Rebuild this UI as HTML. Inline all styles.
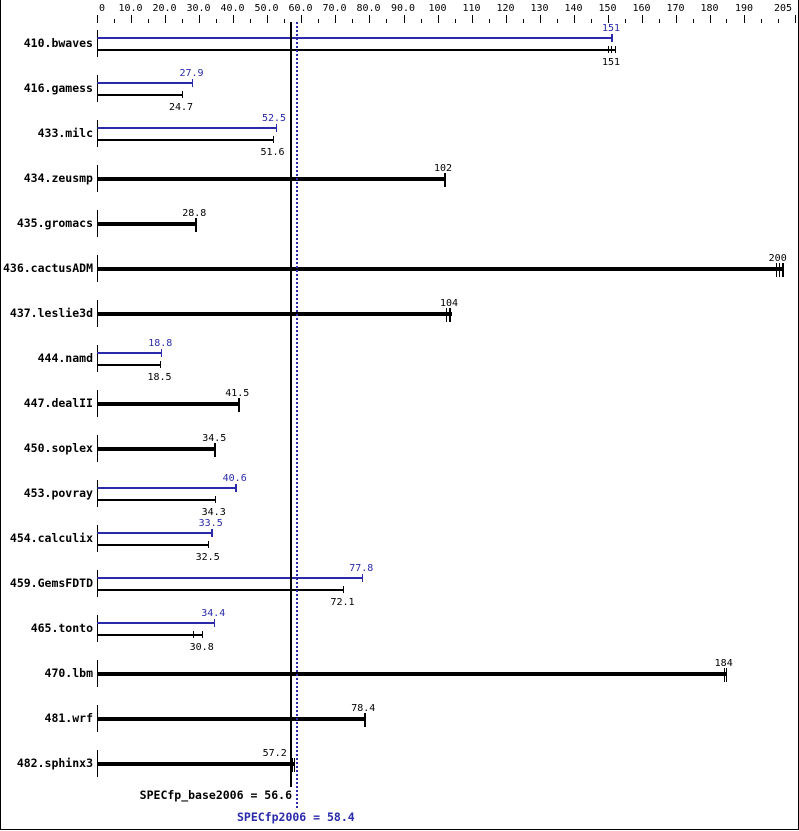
<!DOCTYPE html>
<html><head><meta charset="utf-8"><style>
html,body{margin:0;padding:0;background:#fff;}
svg{display:block;}
text{font-family:"DejaVu Sans Mono","Liberation Mono",monospace;}
.t{font-size:10px;fill:#000;text-anchor:middle;}
.b{font-size:10px;fill:#2a2aaa;text-anchor:middle;}
.l{font-size:11.5px;font-weight:bold;fill:#000;text-anchor:end;}
</style></head><body>
<svg width="799" height="831" viewBox="0 0 799 831" xmlns="http://www.w3.org/2000/svg" shape-rendering="crispEdges">
<rect x="0" y="0" width="799" height="831" fill="#fff"/>
<rect x="0" y="0" width="1" height="830" fill="#000"/>
<rect x="798" y="0" width="1" height="830" fill="#000"/>
<rect x="0" y="829" width="799" height="1" fill="#000"/>

<!-- axis ticks -->
<g fill="#000">
<rect x="97" y="15" width="1" height="8"/><rect x="114" y="19" width="1" height="4"/>
<rect x="131" y="15" width="1" height="8"/><rect x="148" y="19" width="1" height="4"/>
<rect x="165" y="15" width="1" height="8"/><rect x="182" y="19" width="1" height="4"/>
<rect x="199" y="15" width="1" height="8"/><rect x="216" y="19" width="1" height="4"/>
<rect x="233" y="15" width="1" height="8"/><rect x="250" y="19" width="1" height="4"/>
<rect x="267" y="15" width="1" height="8"/><rect x="284" y="19" width="1" height="4"/>
<rect x="301" y="15" width="1" height="8"/><rect x="318" y="19" width="1" height="4"/>
<rect x="335" y="15" width="1" height="8"/><rect x="352" y="19" width="1" height="4"/>
<rect x="369" y="15" width="1" height="8"/><rect x="386" y="19" width="1" height="4"/>
<rect x="404" y="15" width="1" height="8"/><rect x="421" y="19" width="1" height="4"/>
<rect x="438" y="15" width="1" height="8"/><rect x="455" y="19" width="1" height="4"/>
<rect x="472" y="15" width="1" height="8"/><rect x="489" y="19" width="1" height="4"/>
<rect x="506" y="15" width="1" height="8"/><rect x="523" y="19" width="1" height="4"/>
<rect x="540" y="15" width="1" height="8"/><rect x="557" y="19" width="1" height="4"/>
<rect x="574" y="15" width="1" height="8"/><rect x="591" y="19" width="1" height="4"/>
<rect x="608" y="15" width="1" height="8"/><rect x="625" y="19" width="1" height="4"/>
<rect x="642" y="15" width="1" height="8"/><rect x="659" y="19" width="1" height="4"/>
<rect x="676" y="15" width="1" height="8"/><rect x="693" y="19" width="1" height="4"/>
<rect x="710" y="15" width="1" height="8"/><rect x="726" y="19" width="1" height="4"/>
<rect x="744" y="15" width="1" height="8"/><rect x="761" y="19" width="1" height="4"/>
<rect x="778" y="19" width="1" height="4"/><rect x="795" y="15" width="1" height="8"/>
</g>
<g class="t">
<text x="102" y="11" class="t">0</text>
<text x="130.5" y="11" class="t">10.0</text>
<text x="164.5" y="11" class="t">20.0</text>
<text x="198.5" y="11" class="t">30.0</text>
<text x="232.5" y="11" class="t">40.0</text>
<text x="266.5" y="11" class="t">50.0</text>
<text x="300.5" y="11" class="t">60.0</text>
<text x="334.5" y="11" class="t">70.0</text>
<text x="368.5" y="11" class="t">80.0</text>
<text x="403" y="11" class="t">90.0</text>
<text x="437.5" y="11" class="t">100</text>
<text x="471.5" y="11" class="t">110</text>
<text x="505.5" y="11" class="t">120</text>
<text x="539.5" y="11" class="t">130</text>
<text x="573.5" y="11" class="t">140</text>
<text x="607.5" y="11" class="t">150</text>
<text x="641.5" y="11" class="t">160</text>
<text x="675.5" y="11" class="t">170</text>
<text x="709.5" y="11" class="t">180</text>
<text x="744" y="11" class="t">190</text>
<text x="792" y="11" class="t" style="text-anchor:end">205</text>
</g>

<!-- baselines -->
<g fill="#000">
<rect x="97" y="30" width="1" height="27"/>
<rect x="97" y="75" width="1" height="27"/>
<rect x="97" y="120" width="1" height="27"/>
<rect x="97" y="165" width="1" height="27"/>
<rect x="97" y="210" width="1" height="27"/>
<rect x="97" y="255" width="1" height="27"/>
<rect x="97" y="300" width="1" height="27"/>
<rect x="97" y="345" width="1" height="27"/>
<rect x="97" y="390" width="1" height="27"/>
<rect x="97" y="435" width="1" height="27"/>
<rect x="97" y="480" width="1" height="27"/>
<rect x="97" y="525" width="1" height="27"/>
<rect x="97" y="570" width="1" height="27"/>
<rect x="97" y="615" width="1" height="27"/>
<rect x="97" y="660" width="1" height="27"/>
<rect x="97" y="705" width="1" height="27"/>
<rect x="97" y="750" width="1" height="27"/>
</g>

<!-- blue bars -->
<g fill="#2a2aaa">
<rect x="97" y="37" width="516" height="2"/><rect x="611" y="34" width="2" height="8"/>
<rect x="97" y="82" width="96" height="2"/><rect x="192" y="79" width="1" height="8"/>
<rect x="97" y="127" width="180" height="2"/><rect x="276" y="124" width="1" height="8"/>
<rect x="97" y="352" width="65" height="2"/><rect x="161" y="349" width="1" height="8"/>
<rect x="97" y="487" width="140" height="2"/><rect x="235" y="484" width="2" height="8"/>
<rect x="97" y="532" width="116" height="2"/><rect x="211" y="529" width="2" height="8"/>
<rect x="97" y="577" width="266" height="2"/><rect x="362" y="574" width="1" height="8"/>
<rect x="97" y="622" width="118" height="2"/><rect x="214" y="619" width="1" height="8"/>
</g>

<!-- black thin bars -->
<g fill="#000">
<rect x="97" y="49" width="519" height="2"/><rect x="608" y="46" width="1" height="7"/><rect x="611" y="46" width="1" height="7"/><rect x="615" y="46" width="1" height="7"/>
<rect x="97" y="94" width="86" height="2"/><rect x="182" y="91" width="1" height="7"/>
<rect x="97" y="139" width="177" height="2"/><rect x="273" y="136" width="1" height="7"/>
<rect x="97" y="364" width="64" height="2"/><rect x="160" y="361" width="1" height="7"/>
<rect x="97" y="499" width="119" height="2"/><rect x="215" y="496" width="1" height="7"/>
<rect x="97" y="544" width="112" height="2"/><rect x="208" y="541" width="1" height="7"/>
<rect x="97" y="589" width="247" height="2"/><rect x="343" y="586" width="1" height="7"/>
<rect x="97" y="634" width="106" height="2"/><rect x="193" y="631" width="1" height="7"/><rect x="202" y="631" width="1" height="7"/>
</g>

<!-- black thick bars -->
<g fill="#000">
<rect x="97" y="177" width="348" height="4"/><rect x="444" y="173" width="2" height="14"/>
<rect x="97" y="222" width="99" height="4"/><rect x="195" y="218" width="2" height="14"/>
<rect x="97" y="267" width="687" height="4"/><rect x="776" y="263" width="1" height="14"/><rect x="779" y="263" width="1" height="14"/><rect x="782" y="263" width="2" height="14"/>
<rect x="97" y="312" width="355" height="4"/><rect x="446" y="308" width="1" height="14"/><rect x="449" y="308" width="2" height="14"/>
<rect x="97" y="402" width="143" height="4"/><rect x="238" y="398" width="2" height="14"/>
<rect x="97" y="447" width="119" height="4"/><rect x="214" y="443" width="2" height="14"/>
<rect x="97" y="672" width="630" height="4"/><rect x="724" y="668" width="1" height="14"/><rect x="726" y="668" width="1" height="14"/>
<rect x="97" y="717" width="269" height="4"/><rect x="364" y="713" width="2" height="14"/>
<rect x="97" y="762" width="198" height="4"/><rect x="292" y="758" width="1" height="14"/><rect x="294" y="758" width="1" height="14"/>
</g>

<!-- reference lines -->
<rect x="290" y="22" width="2" height="765" fill="#000"/>
<line x1="297" y1="22" x2="297" y2="808" stroke="#2a2aaa" stroke-width="2" stroke-dasharray="2 2" shape-rendering="crispEdges"/>

<!-- row labels -->
<text class="l" x="93" y="47">410.bwaves</text>
<text class="l" x="93" y="92">416.gamess</text>
<text class="l" x="93" y="137">433.milc</text>
<text class="l" x="93" y="182">434.zeusmp</text>
<text class="l" x="93" y="227">435.gromacs</text>
<text class="l" x="93" y="272">436.cactusADM</text>
<text class="l" x="93" y="317">437.leslie3d</text>
<text class="l" x="93" y="362">444.namd</text>
<text class="l" x="93" y="407">447.dealII</text>
<text class="l" x="93" y="452">450.soplex</text>
<text class="l" x="93" y="497">453.povray</text>
<text class="l" x="93" y="542">454.calculix</text>
<text class="l" x="93" y="587">459.GemsFDTD</text>
<text class="l" x="93" y="632">465.tonto</text>
<text class="l" x="93" y="677">470.lbm</text>
<text class="l" x="93" y="722">481.wrf</text>
<text class="l" x="93" y="767">482.sphinx3</text>

<!-- blue value labels -->
<text class="b" x="611" y="31">151</text>
<text class="b" x="191.5" y="76">27.9</text>
<text class="b" x="274" y="121">52.5</text>
<text class="b" x="160.3" y="346">18.8</text>
<text class="b" x="234.7" y="481">40.6</text>
<text class="b" x="210.7" y="526">33.5</text>
<text class="b" x="361.3" y="571">77.8</text>
<text class="b" x="213.3" y="616">34.4</text>

<!-- black value labels -->
<text class="t" x="611" y="65">151</text>
<text class="t" x="181" y="110">24.7</text>
<text class="t" x="272.5" y="155">51.6</text>
<text class="t" x="443" y="171">102</text>
<text class="t" x="194.3" y="216">28.8</text>
<text class="t" x="777.7" y="261">200</text>
<text class="t" x="449" y="306">104</text>
<text class="t" x="159.5" y="380">18.5</text>
<text class="t" x="237.3" y="396">41.5</text>
<text class="t" x="214.3" y="441">34.5</text>
<text class="t" x="213.7" y="515">34.3</text>
<text class="t" x="207.7" y="560">32.5</text>
<text class="t" x="342.5" y="605">72.1</text>
<text class="t" x="201.7" y="650">30.8</text>
<text class="t" x="723.7" y="666">184</text>
<text class="t" x="363.3" y="711">78.4</text>
<text class="t" x="274.7" y="756">57.2</text>

<!-- summary labels -->
<text class="l" x="292" y="799">SPECfp_base2006 = 56.6</text>
<text class="l" x="237" y="821" style="text-anchor:start;fill:#2a2aaa">SPECfp2006 = 58.4</text>
</svg>
</body></html>
